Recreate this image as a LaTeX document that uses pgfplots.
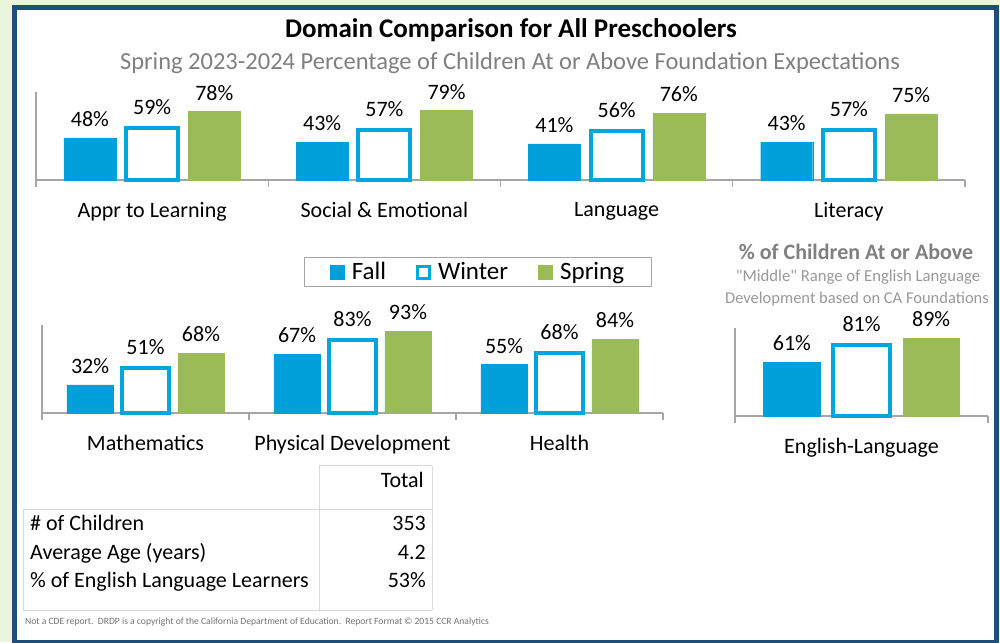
\documentclass[border=0pt]{standalone}
\usepackage{fontspec}
\setmainfont{Carlito}
\newfontfamily\plainquotes{Carlito}[Ligatures=TeXOff]
\usepackage{pgfplots}
\pgfplotsset{compat=1.18}

\definecolor{fallblue}{RGB}{0,160,218}
\definecolor{winterblue}{RGB}{0,166,222}
\definecolor{springgreen}{RGB}{155,187,89}
\definecolor{axisgray}{RGB}{166,166,166}
\definecolor{framebg}{RGB}{234,245,220}
\definecolor{frameblue}{RGB}{31,78,121}
\definecolor{tablegray}{RGB}{217,217,217}

\newcommand{\fz}[1]{\fontsize{#1}{#1}\selectfont}

\pgfplotsset{
  dcaxis/.style={
    scale only axis, anchor=south west, clip=false,
    ymin=0, ymax=100, xmin=0,
    axis x line*=bottom, axis y line*=left,
    axis line style={draw=axisgray, line width=1.3pt},
    ytick=\empty,
    major tick length=0pt, minor tick length=7pt, tick align=outside,
    minor tick style={draw=axisgray, line width=1.3pt},
    xticklabel style={font=\fz{22}, yshift=-19pt},
    nodes near coords={\pgfmathprintnumber[assume math mode=true]{\pgfplotspointmeta}\%},
    every node near coord/.append style={font=\fz{22}, text=black, inner sep=0pt, anchor=south, yshift=11pt},
  },
  sqlegend/.style={legend image code/.code={\draw[##1,/tikz/line width=3pt] (1.5pt,-6pt) rectangle (13.5pt,6pt);}},
  fall/.style={fill=fallblue, draw=fallblue, line width=0.3pt, sqlegend},
  winter/.style={fill=white, draw=winterblue, line width=4pt, sqlegend},
  spring/.style={fill=springgreen, draw=springgreen, line width=0.3pt, sqlegend},
}

\begin{document}
\begin{tikzpicture}[x=1pt,y=1pt]
\useasboundingbox (0,0) rectangle (1000,642);
\fill[framebg] (0,0) rectangle (1000,642);
\fill[white] (14.5,-1) rectangle (996,634.5);
\draw[frameblue, line width=5pt] (14.5,-0.5) -- (14.5,634.5) -- (996,634.5) -- (996,-0.5) -- cycle;

% titles
\node[font=\bfseries\fz{27}] at (511,612) {Domain Comparison for All Preschoolers};
\node[font=\fz{24.5}, text=black!50] at (510,579) {Spring 2023-2024 Percentage of Children At or Above Foundation Expectations};

% top row
\begin{axis}[dcaxis, at={(36pt,462pt)}, width=929pt, height=88pt, xmax=4,
  ybar=10.2pt, bar width=0.224,
  xtick={0.5,1.5,2.5,3.5}, minor xtick={0,1,2,3,4},
  xticklabels={Appr to Learning, Social \& Emotional, Language, Literacy}]
\addplot[fall] coordinates {(0.5,48) (1.5,43) (2.5,41) (3.5,43)};
\addplot[winter] coordinates {(0.5,59) (1.5,57) (2.5,56) (3.5,57)};
\addplot[spring] coordinates {(0.5,78) (1.5,79) (2.5,76) (3.5,75)};
\end{axis}

% bottom left
\begin{axis}[dcaxis, at={(42pt,229pt)}, width=621pt, height=88pt, xmax=3,
  ybar=9.1pt, bar width=0.224,
  xtick={0.5,1.5,2.5}, minor xtick={0,1,2,3},
  xticklabels={Mathematics, Physical Development, Health},
  legend columns=3,
  legend style={at={(0.702,1.602)}, anchor=center, draw=axisgray, line width=1pt,
    font=\fz{25}, inner xsep=25pt, inner ysep=3pt,
    /tikz/every odd column/.append style={column sep=5pt},
    /tikz/every even column/.append style={column sep=28pt}}]
\addplot[fall] coordinates {(0.5,32) (1.5,67) (2.5,55)};
\addlegendentry{Fall}
\addplot[winter] coordinates {(0.5,51) (1.5,83) (2.5,68)};
\addlegendentry{Winter}
\addplot[spring] coordinates {(0.5,68) (1.5,93) (2.5,84)};
\addlegendentry{Spring}
\end{axis}

% bottom right
\node[font=\bfseries\fz{22}, text=black!50] at (856,390) {\% of Children At or Above};
\node[font=\plainquotes\fz{16.7}, text=black!40] at (858,365) {"Middle" Range of English Language};
\node[font=\fz{16.5}, text=black!40] at (857,343) {Development based on CA Foundations};
\begin{axis}[dcaxis, at={(735pt,226pt)}, width=253pt, height=88pt, xmax=1,
  ybar=12.7pt, bar width=0.225,
  xtick={0.5}, minor xtick={0,1}, xticklabels={English-Language}]
\addplot[fall] coordinates {(0.5,61)};
\addplot[winter] coordinates {(0.5,81)};
\addplot[spring] coordinates {(0.5,89)};
\end{axis}

% summary table
\draw[tablegray, line width=1pt] (319,176) -- (319,32) (432,176) -- (432,32) (319,176) -- (432,176)
  (23,132) -- (432,132) (23,32) -- (432,32) (23,132) -- (23,32);
\node[font=\fz{22}, anchor=base east, inner sep=0pt] at (424,154) {Total};
\node[font=\fz{22}, anchor=base west, inner sep=0pt] at (30,111) {\# of Children};
\node[font=\fz{22}, anchor=base west, inner sep=0pt] at (30,82) {Average Age (years)};
\node[font=\fz{22}, anchor=base west, inner sep=0pt] at (30,55) {\% of English Language Learners};
\node[font=\fz{22}, anchor=base east, inner sep=0pt] at (426,111) {353};
\node[font=\fz{22}, anchor=base east, inner sep=0pt] at (426,82) {4.2};
\node[font=\fz{22}, anchor=base east, inner sep=0pt] at (426,55) {53\%};

% footnote
\node[font=\fz{9.6}, text=black!55, anchor=west, inner sep=0pt] at (25,20) {Not a CDE report.\ \ DRDP is a copyright of the California Department of Education.\ \ Report Format © 2015 CCR Analytics};
\end{tikzpicture}
\end{document}
